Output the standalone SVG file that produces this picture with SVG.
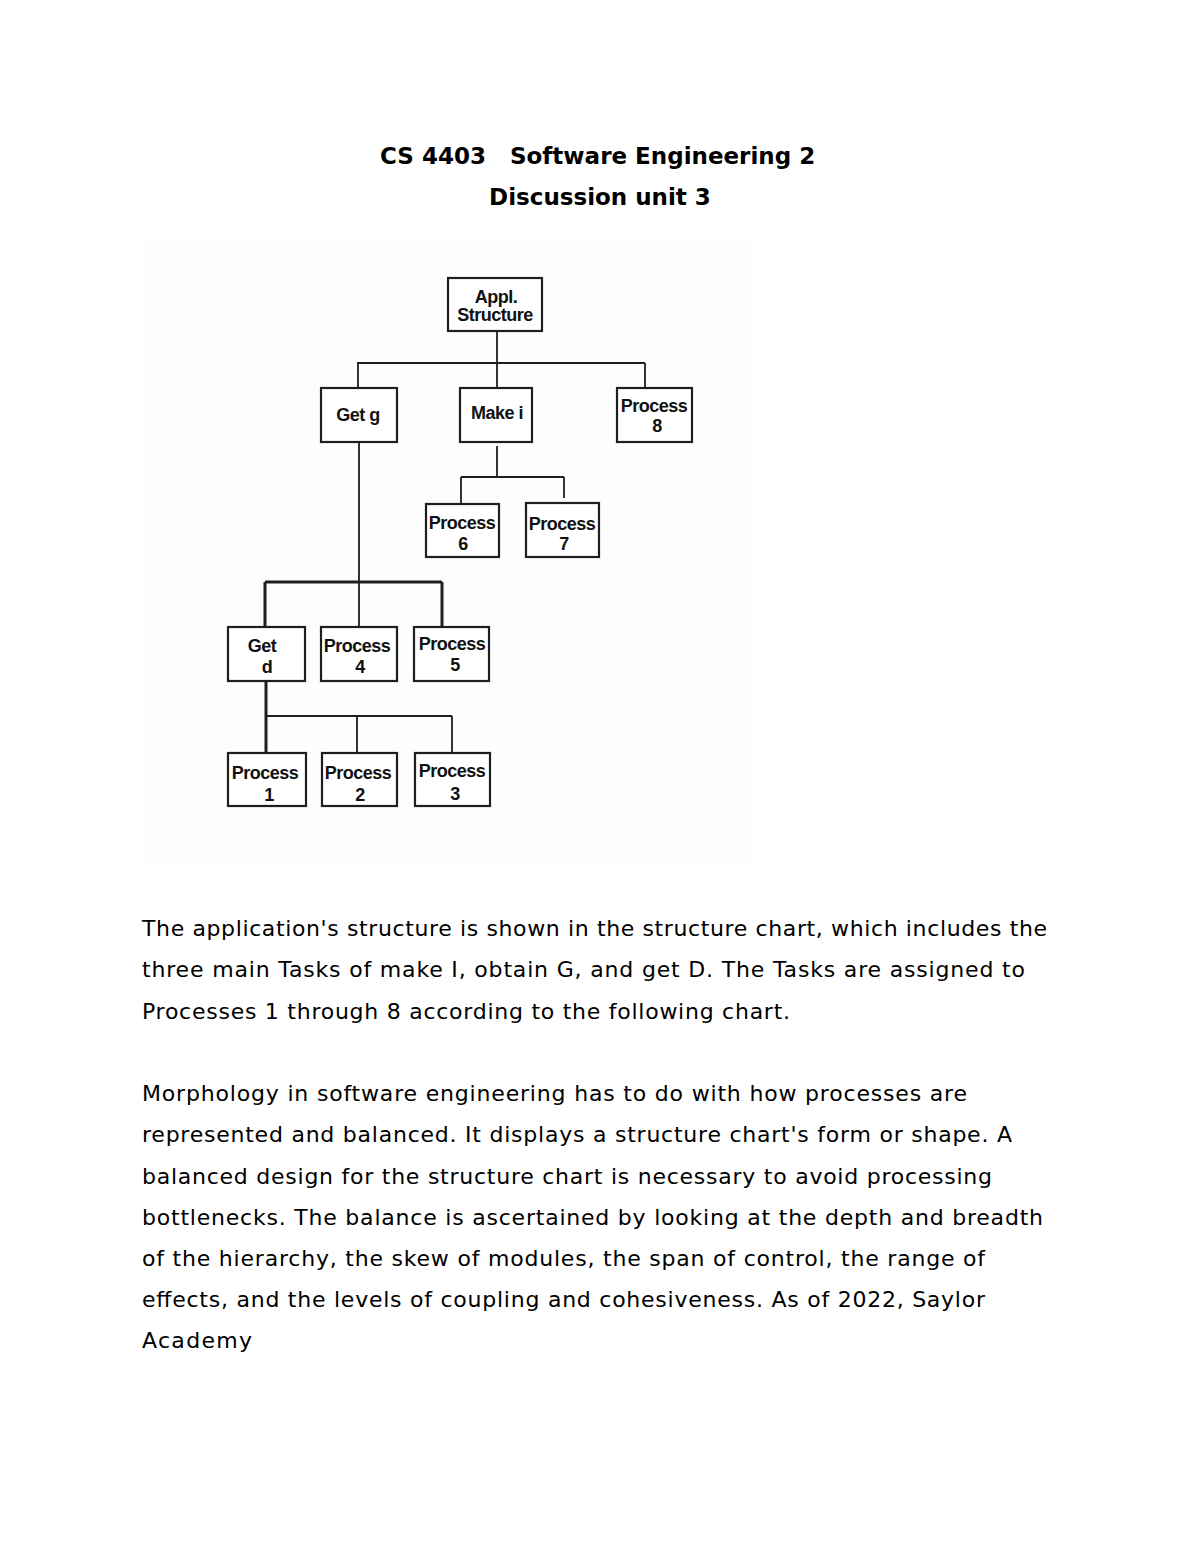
<svg xmlns="http://www.w3.org/2000/svg" width="1200" height="1553" viewBox="0 0 1200 1553">
<style>
.title{font-family:"DejaVu Sans",Verdana,sans-serif;font-weight:bold;font-size:23px;fill:#000}
.body{font-family:"DejaVu Sans",Verdana,sans-serif;font-size:22px;fill:#000}
.box{fill:#fff;stroke:#1e1e1e;stroke-width:2.2}
.lbl{font-family:"Liberation Sans",Arial,sans-serif;font-weight:bold;font-size:18px;fill:#111;text-anchor:middle;letter-spacing:-0.5px}
.ln{fill:none;stroke:#1e1e1e;stroke-width:1.8}
.thick{stroke-width:3}
</style>
<rect width="1200" height="1553" fill="#fff"/>
<rect x="143" y="237" width="612" height="623" fill="#fdfdfd"/>
<g id="title">
<text class="title" x="380" y="164">CS 4403</text>
<text class="title" x="510" y="164">Software Engineering 2</text>
<text class="title" x="600" y="205" text-anchor="middle">Discussion unit 3</text>
</g>
<g id="connectors">
<path class="ln" d="M497,331 V388"/>
<path class="ln" d="M357,363 H645"/>
<path class="ln" d="M358,363 V388"/>
<path class="ln" d="M645,363 V388"/>
<path class="ln" d="M497,446 V477"/>
<path class="ln" d="M461,477 H564"/>
<path class="ln" d="M461,477 V504"/>
<path class="ln" d="M564,477 V498"/>
<path class="ln" d="M359,442 V627"/>
<path class="ln thick" d="M265,582 H442"/>
<path class="ln thick" d="M265,582 V627"/>
<path class="ln thick" d="M442,582 V627"/>
<path class="ln thick" d="M266,681 V753"/>
<path class="ln" d="M266,716 H452"/>
<path class="ln" d="M357,716 V753"/>
<path class="ln" d="M452,716 V753"/>
</g>
<g id="appl-structure">
<rect class="box" x="448" y="278" width="94" height="53"/>
<text class="lbl" x="496" y="303">Appl.</text>
<text class="lbl" x="495" y="321">Structure</text>
</g>
<g id="get-g">
<rect class="box" x="321" y="388" width="76" height="54"/>
<text class="lbl" x="358" y="421">Get g</text>
</g>
<g id="make-i">
<rect class="box" x="460" y="388" width="72" height="54"/>
<text class="lbl" x="497" y="419">Make i</text>
</g>
<g id="process-8">
<rect class="box" x="617" y="388" width="75" height="54"/>
<text class="lbl" x="654" y="412">Process</text>
<text class="lbl" x="657" y="432">8</text>
</g>
<g id="process-6">
<rect class="box" x="426" y="504" width="73" height="53"/>
<text class="lbl" x="462" y="529">Process</text>
<text class="lbl" x="463" y="550">6</text>
</g>
<g id="process-7">
<rect class="box" x="526" y="503" width="73" height="54"/>
<text class="lbl" x="562" y="530">Process</text>
<text class="lbl" x="564" y="550">7</text>
</g>
<g id="get-d">
<rect class="box" x="228" y="627" width="77" height="54"/>
<text class="lbl" x="262" y="652">Get</text>
<text class="lbl" x="267" y="673">d</text>
</g>
<g id="process-4">
<rect class="box" x="321" y="627" width="76" height="54"/>
<text class="lbl" x="357" y="652">Process</text>
<text class="lbl" x="360" y="673">4</text>
</g>
<g id="process-5">
<rect class="box" x="414" y="627" width="75" height="54"/>
<text class="lbl" x="452" y="650">Process</text>
<text class="lbl" x="455" y="671">5</text>
</g>
<g id="process-1">
<rect class="box" x="228" y="753" width="78" height="53"/>
<text class="lbl" x="265" y="779">Process</text>
<text class="lbl" x="269" y="801">1</text>
</g>
<g id="process-2">
<rect class="box" x="322" y="753" width="75" height="53"/>
<text class="lbl" x="358" y="779">Process</text>
<text class="lbl" x="360" y="801">2</text>
</g>
<g id="process-3">
<rect class="box" x="415" y="753" width="75" height="53"/>
<text class="lbl" x="452" y="777">Process</text>
<text class="lbl" x="455" y="800">3</text>
</g>
<g id="text">
<text class="body" x="142" y="936" textLength="905" lengthAdjust="spacing">The application's structure is shown in the structure chart, which includes the</text>
<text class="body" x="142" y="977" textLength="883" lengthAdjust="spacing">three main Tasks of make I, obtain G, and get D. The Tasks are assigned to</text>
<text class="body" x="142" y="1019" textLength="648" lengthAdjust="spacing">Processes 1 through 8 according to the following chart.</text>
<text class="body" x="142" y="1101" textLength="825" lengthAdjust="spacing">Morphology in software engineering has to do with how processes are</text>
<text class="body" x="142" y="1142" textLength="870" lengthAdjust="spacing">represented and balanced. It displays a structure chart's form or shape. A</text>
<text class="body" x="142" y="1184" textLength="850" lengthAdjust="spacing">balanced design for the structure chart is necessary to avoid processing</text>
<text class="body" x="142" y="1225" textLength="901" lengthAdjust="spacing">bottlenecks. The balance is ascertained by looking at the depth and breadth</text>
<text class="body" x="142" y="1266" textLength="843" lengthAdjust="spacing">of the hierarchy, the skew of modules, the span of control, the range of</text>
<text class="body" x="142" y="1307" textLength="843" lengthAdjust="spacing">effects, and the levels of coupling and cohesiveness. As of 2022, Saylor</text>
<text class="body" x="142" y="1348" textLength="110" lengthAdjust="spacing">Academy</text>
</g>
</svg>
